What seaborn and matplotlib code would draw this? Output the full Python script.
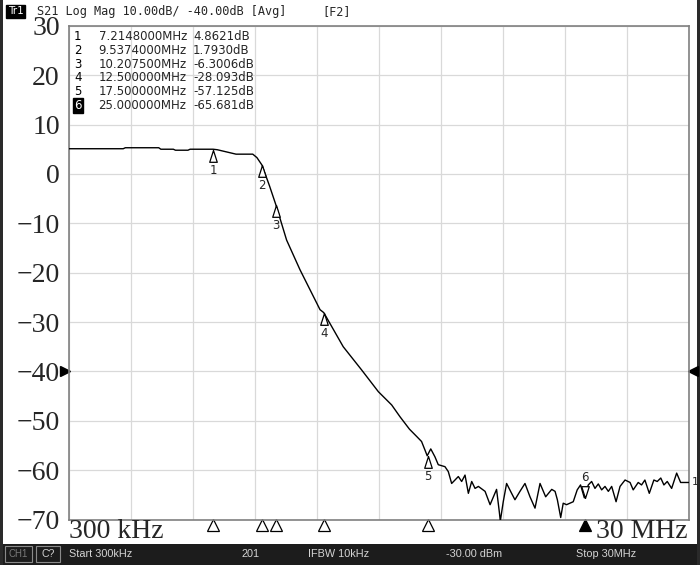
import numpy as np
import pandas as pd
import matplotlib
matplotlib.use("Agg")
import matplotlib.pyplot as plt
import matplotlib.transforms as mtransforms
from matplotlib.patches import Rectangle
import seaborn as sns

# S21 trace
freq_mhz = [0.30, 2.90, 3.00, 4.60, 4.70, 5.30, 5.40, 6.00, 6.10, 7.20, 7.40, 7.90,
            8.30, 9.10, 9.30, 9.54, 9.90, 10.21, 10.72, 11.36, 12.32, 12.50, 13.43,
            14.31, 15.11, 15.75, 16.15, 16.60, 16.95, 17.18, 17.34, 17.45, 17.62,
            17.82, 17.98, 18.30, 18.46, 18.62, 18.78, 18.94, 19.10, 19.26, 19.42,
            19.58, 19.74, 19.90, 20.22, 20.46, 20.77, 20.90, 20.95, 21.09, 21.25,
            21.49, 21.65, 21.89, 22.13, 22.37, 22.61, 22.85, 23.12, 23.41, 23.57,
            23.68, 23.84, 23.96, 24.12, 24.44, 24.63, 24.79, 24.97, 25.16, 25.32,
            25.48, 25.64, 25.80, 25.96, 26.12, 26.28, 26.49, 26.68, 26.92, 27.16,
            27.31, 27.55, 27.71, 27.87, 28.08, 28.30, 28.46, 28.63, 28.78, 28.94,
            29.15, 29.39, 29.58, 30.00]
trace_db = [5.1, 5.1, 5.3, 5.3, 5.0, 5.0, 4.8, 4.8, 5.0, 5.0, 4.9, 4.4,
            4.0, 4.0, 3.3, 1.8, -2.4, -6.3, -13.4, -19.4, -27.5, -28.1, -35.0,
            -39.7, -44.1, -46.8, -49.2, -51.7, -53.2, -54.2, -55.9, -57.1, -55.7,
            -57.3, -58.9, -59.3, -60.3, -62.7, -62.0, -61.3, -62.3, -61.0, -64.7,
            -62.3, -63.7, -63.3, -64.3, -67.0, -63.9, -68.4, -70.3, -66.4, -62.7,
            -64.7, -66.0, -64.3, -62.7, -65.4, -67.7, -62.7, -65.4, -63.9, -64.3,
            -66.0, -69.6, -66.7, -67.0, -66.4, -64.0, -63.0, -65.6, -63.0, -62.3,
            -63.7, -62.8, -64.0, -63.3, -64.3, -63.3, -66.4, -63.3, -62.0, -62.5,
            -64.0, -62.5, -63.0, -62.0, -64.7, -62.0, -62.3, -61.6, -63.0, -62.3,
            -63.7, -60.6, -62.5, -62.5]

marker_ids = ["1", "2", "3", "4", "5", "6"]
marker_freq = [7.2148, 9.5374, 10.2075, 12.5, 17.5, 25.0]
marker_db = [4.8621, 1.7930, -6.3006, -28.093, -57.125, -65.681]
active_marker = "6"

y_ticks = [30, 20, 10, 0, -10, -20, -30, -40, -50, -60, -70]
ref_level = -40
x_start, x_stop = 0.3, 30.0

header = "S21 Log Mag 10.00dB/ -40.00dB [Avg]"
footer = ["Start 300kHz", "201", "IFBW 10kHz", "-30.00 dBm", "Stop 30MHz"]

W, H = 700, 565


def fx(px):
    return px / W


def fy(py):
    return 1 - py / H


def sig(v, n):
    digits = len(str(int(abs(v))))
    return f"{v:.{n - digits}f}"


sns.set_theme(style="white")
plt.rcParams["font.family"] = ["DejaVu Sans"]

fig = plt.figure(figsize=(7, 5.65), dpi=100)
fig.patch.set_facecolor("white")
ax = fig.add_axes([fx(68.9), fy(519.5), (689.4 - 68.9) / W, (519.5 - 25.8) / H])

df = pd.DataFrame({"freq": freq_mhz, "db": trace_db})
sns.lineplot(data=df, x="freq", y="db", ax=ax, color="black", lw=1.0,
             estimator=None, zorder=3)

ax.set_xlim(x_start, x_stop)
ax.set_ylim(min(y_ticks), max(y_ticks))
ax.set_xticks(np.linspace(x_start, x_stop, 11))
ax.set_xticklabels([])
ax.set_yticks(y_ticks)
ax.set_yticklabels([str(t).replace("-", "\u2212") for t in y_ticks],
                   family="Liberation Serif", fontsize=20)
ax.tick_params(axis="both", length=0)
ax.tick_params(axis="y", pad=6.5)
ax.set_xlabel("")
ax.set_ylabel("")
ax.grid(True, color="#d9d9d9", lw=0.9)
for s in ax.spines.values():
    s.set_color("#808080")
    s.set_linewidth(1.2)

# marker triangles on the trace
tri_up = [(0, 0), (-0.32, -1), (0.32, -1), (0, 0)]
tri_down = [(0, 0), (-0.32, 1), (0.32, 1), (0, 0)]
for mid, f, d in zip(marker_ids, marker_freq, marker_db):
    down = mid == active_marker
    ax.plot(f, d, marker=tri_down if down else tri_up, ms=17, mfc="white",
            mec="black", mew=0.9, zorder=4, clip_on=False)
    ax.annotate(mid, (f, d), xytext=(0, 15 if down else -15),
                textcoords="offset points", ha="center", va="center",
                fontsize=8.5, zorder=5)

# stimulus markers under the grid
bx = mtransforms.blended_transform_factory(ax.transData, ax.transAxes)
for mid, f in zip(marker_ids, marker_freq):
    filled = mid == active_marker
    ax.plot(f, -0.012, marker="^", ms=8, transform=bx, clip_on=False,
            mfc="black" if filled else "white", mec="black", mew=0.9)

# reference level arrows
ry = mtransforms.blended_transform_factory(ax.transAxes, ax.transData)
ax.plot(-0.0063, ref_level, marker=">", ms=7, color="black", transform=ry, clip_on=False)
ax.plot(1.0057, ref_level, marker="<", ms=7, color="black", transform=ry, clip_on=False)

# trace number at the right end
ax.annotate("1", (freq_mhz[-1], trace_db[-1]), xytext=(2, 0),
            textcoords="offset points", ha="left", va="center",
            fontsize=8, annotation_clip=False)

# marker table
for i, (mid, f, d) in enumerate(zip(marker_ids, marker_freq, marker_db)):
    yy = fy(36.7 + 13.7 * i)
    box = dict(boxstyle="square,pad=0.1", fc="black", ec="black") if mid == active_marker else None
    fig.text(fx(74), yy, mid, fontsize=8.5, va="center", ha="left",
             color="white" if box else "black", bbox=box)
    fig.text(fx(98.5), yy, sig(f, 8) + "MHz", fontsize=8.5, va="center", ha="left")
    fig.text(fx(193), yy, sig(d, 5) + "dB", fontsize=8.5, va="center", ha="left")

# start / stop labels
fig.text(fx(69), fy(538), "300 kHz", family="Liberation Serif", fontsize=20,
         ha="left", va="baseline")
fig.text(fx(688), fy(538), "30 MHz", family="Liberation Serif", fontsize=20,
         ha="right", va="baseline")

# header line
fig.text(fx(8), fy(11.5), "Tr1", fontsize=7.5, color="white", va="center", ha="left",
         bbox=dict(boxstyle="square,pad=0.15", fc="black", ec="black"))
fig.text(fx(37), fy(11.5), header, family="DejaVu Sans Mono", fontsize=8.6,
         va="center", ha="left")
fig.text(fx(322), fy(11.5), "[F2]", family="DejaVu Sans Mono", fontsize=8.6,
         va="center", ha="left")

# frame bars
fig.add_artist(Rectangle((0, 0), 1, 21.5 / H, transform=fig.transFigure,
                         fc="#1c1c1c", ec="none", zorder=0))
fig.add_artist(Rectangle((0, 0), fx(3), 1, transform=fig.transFigure,
                         fc="#2a2a2a", ec="none", zorder=0))
fig.add_artist(Rectangle((fx(697), 0), fx(3), 1, transform=fig.transFigure,
                         fc="#2a2a2a", ec="none", zorder=0))
fig.add_artist(Rectangle((fx(5), fy(562)), fx(27), 16 / H, transform=fig.transFigure,
                         fc="none", ec="#8a8a8a", lw=0.8))
fig.add_artist(Rectangle((fx(36), fy(562)), fx(24), 16 / H, transform=fig.transFigure,
                         fc="none", ec="#8a8a8a", lw=0.8))
fig.text(fx(18.5), fy(554), "CH1", family="Liberation Sans", fontsize=7,
         color="#7a7a7a", ha="center", va="center")
fig.text(fx(48), fy(554), "C?", family="Liberation Sans", fontsize=7.6,
         color="#d0d0d0", ha="center", va="center")
for txt, px in zip(footer, [69, 241, 308, 446, 576]):
    fig.text(fx(px), fy(554), txt, family="Liberation Sans", fontsize=7.8,
             color="#d4d4d4", ha="left", va="center")

fig.savefig("out.png", dpi=100)
